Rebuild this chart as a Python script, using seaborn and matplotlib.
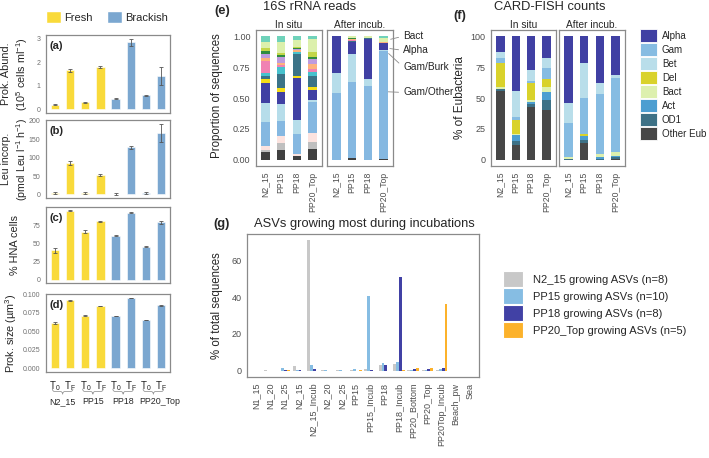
import numpy as np
import pandas as pd
import matplotlib
matplotlib.use('Agg')
import matplotlib.pyplot as plt
import matplotlib.transforms as mtransforms
from matplotlib.patches import Patch, PathPatch
from matplotlib.path import Path
import seaborn as sns

# ---------------- panels a-d : incubation measurements ----------------
sites = ['N2_15', 'PP15', 'PP18', 'PP20_Top']
times = ['T0', 'TF']
time_labels = ['T$_0$', 'T$_F$']
water = ['Fresh', 'Fresh', 'Fresh', 'Fresh', 'Brackish', 'Brackish', 'Brackish', 'Brackish']

abund = [0.20, 1.65, 0.30, 1.80, 0.46, 2.85, 0.61, 1.43]
abund_err = [0.02, 0.07, 0.01, 0.04, 0.03, 0.15, 0.02, 0.38]
leu = [5, 85, 4, 53, 2, 128, 3, 168]
leu_err = [3, 6, 4, 4, 3, 4, 3, 25]
hna = [40, 94.5, 66, 80, 60.5, 92, 45, 78.5]
hna_err = [4, 0.5, 2, 0.5, 1, 0.8, 0.8, 2]
cell_size = [0.061, 0.092, 0.071, 0.084, 0.071, 0.095, 0.065, 0.085]
cell_size_err = [0.001, 0.0005, 0.0005, 0.0005, 0.0003, 0.0005, 0.0003, 0.001]

# ---------------- panel e : 16S rRNA reads (bottom -> top) ----------------
e_taxa = ['Other', 'Minor_grey', 'Minor_pink', 'Gam/Other', 'Gam/Burk', 'Alpha',
          'Minor_yellow', 'Minor_teal', 'Minor_cyan', 'Minor_rose', 'Minor_peach',
          'Minor_lilac', 'Minor_green', 'Minor_lime', 'Bact', 'Minor_mint']
e_colors = ['#404040', '#BFBFBF', '#FCE3DF', '#85B8E1', '#B6DDEA', '#4040A3',
            '#F5DE16', '#3B7388', '#47C2CE', '#F082B2', '#FDB27C',
            '#BE9BDD', '#2F8C3F', '#C3D649', '#DCF0AC', '#6FD2BA']
e_insitu_N2_15 = [0.063, 0.014, 0.036, 0.189, 0.158, 0.164, 0.027, 0.027, 0.027, 0.096, 0.022, 0.033, 0.027, 0.019, 0.049, 0.049]
e_insitu_PP15 = [0.077, 0.055, 0.058, 0.12, 0.145, 0.095, 0.027, 0.12, 0.05, 0.02, 0.02, 0.045, 0.015, 0.02, 0.085, 0.048]
e_insitu_PP18 = [0.03, 0.0, 0.019, 0.156, 0.117, 0.342, 0.014, 0.177, 0.02, 0.0, 0.016, 0.005, 0.005, 0.01, 0.06, 0.029]
e_insitu_PP20 = [0.09, 0.055, 0.068, 0.251, 0.016, 0.087, 0.022, 0.087, 0.033, 0.022, 0.041, 0.04, 0.019, 0.044, 0.1, 0.025]
e_incub_N2_15 = [0, 0, 0, 0.54, 0.16, 0.30, 0, 0, 0, 0, 0, 0, 0, 0, 0, 0]
e_incub_PP15 = [0.015, 0, 0, 0.615, 0.225, 0.10, 0, 0.01, 0, 0.005, 0.005, 0.005, 0.005, 0, 0.015, 0]
e_incub_PP18 = [0, 0, 0, 0.60, 0.05, 0.33, 0, 0.005, 0, 0, 0, 0, 0, 0, 0.015, 0]
e_incub_PP20 = [0.008, 0, 0, 0.874, 0.006, 0.055, 0, 0.004, 0, 0, 0.004, 0.004, 0, 0, 0.03, 0.015]

# ---------------- panel f : CARD-FISH counts (% of Eubacteria) ----------------
f_groups = ['Alpha', 'Gam', 'Bet', 'Del', 'Bact', 'Act', 'OD1', 'Other Eub']
f_colors = ['#4040A3', '#86BCE2', '#B9DEEA', '#D9D22B', '#DDF0AE', '#4C9ED1', '#3D7186', '#474747']
f_stack_order = ['Other Eub', 'OD1', 'Act', 'Bact', 'Del', 'Gam', 'Bet', 'Alpha']
f_insitu = {
    'Alpha': [13, 44, 27.5, 17.5], 'Gam': [4.5, 3, 2, 9], 'Bet': [4.5, 21, 8.5, 8.5],
    'Del': [19, 11, 13.5, 6.5], 'Bact': [1.5, 1, 1.5, 3.5], 'Act': [0, 5, 2, 7],
    'OD1': [1.5, 3, 2, 8], 'Other Eub': [56, 12, 43, 40]}
f_incub = {
    'Alpha': [54, 22, 37.5, 31], 'Gam': [28, 29, 48, 60], 'Bet': [16, 28, 9.5, 3],
    'Del': [0, 1.5, 0, 0], 'Bact': [1, 0.5, 3, 3], 'Act': [0.5, 3, 1.5, 1],
    'OD1': [0.5, 2, 0.5, 1.5], 'Other Eub': [0, 14, 0, 0.5]}

# ---------------- panel g : growing ASVs ----------------
g_samples = ['N1_15', 'N1_20', 'N1_25', 'N2_15', 'N2_15_Incub', 'N2_20', 'N2_25', 'PP15',
             'PP15_Incub', 'PP18', 'PP18_Incub', 'PP20_Bottom', 'PP20_Top', 'PP20Top_Incub',
             'Beach_pw', 'Sea']
g_groups = ['N2_15 growing ASVs (n=8)', 'PP15 growing ASVs (n=10)',
            'PP18 growing ASVs (n=8)', 'PP20_Top growing ASVs (n=5)']
g_colors = ['#C8C8C8', '#86BDE3', '#4141A5', '#FCB22B']
g_n2_15 = [0, 0.1, 0, 2.5, 71, 0.3, 0.2, 0.1, 0.8, 3.0, 3.5, 0.2, 0.1, 0.2, 0, 0]
g_pp15 = [0, 0, 1.2, 0.5, 3.0, 0.2, 0.1, 0.8, 40.5, 4.0, 4.5, 0.5, 0.3, 1.0, 0, 0]
g_pp18 = [0, 0, 0.1, 0.3, 0.8, 0, 0, 0, 0.5, 3.0, 51, 0.6, 0.8, 1.3, 0, 0]
g_pp20 = [0, 0, 0.2, 0, 0, 0, 0, 0.3, 0, 0, 0.3, 1.5, 1.3, 36.5, 0, 0]

water_pal = {'Fresh': '#F9DA3A', 'Brackish': '#7BA7D0'}
border = '#8A8A8A'

sns.set_theme(style='white')
plt.rcParams['font.family'] = ['Liberation Sans', 'DejaVu Sans']
plt.rcParams['mathtext.default'] = 'regular'

W, H = 709, 458
fig = plt.figure(figsize=(W / 100, H / 100), dpi=100)


def px_axes(l, t, r, b):
    return fig.add_axes([l / W, 1 - b / H, (r - l) / W, (b - t) / H])


def ftext(x, y, s, **kw):
    fig.text(x / W, 1 - y / H, s, **kw)


def frame(ax, labelsize, labelcolor='#4D4D4D'):
    for sp in ax.spines.values():
        sp.set_color(border)
        sp.set_linewidth(0.9)
    ax.tick_params(axis='both', colors=border, labelcolor=labelcolor,
                   labelsize=labelsize, length=2.5, width=0.6, pad=1.5)
    ax.set_xlabel('')
    ax.set_ylabel('')


def expand(ax, top):
    ax.set_ylim(-0.05 * top, 1.05 * top)


def brace(ax, x0, x1, y, h):
    tr = mtransforms.blended_transform_factory(ax.transData, ax.transAxes)
    xm, d = (x0 + x1) / 2, 0.15
    verts = [(x0, y), (x0, y - h / 2), (x0 + d, y - h / 2),
             (xm - d, y - h / 2), (xm, y - h / 2), (xm, y - h),
             (xm, y - h / 2), (xm + d, y - h / 2),
             (x1 - d, y - h / 2), (x1, y - h / 2), (x1, y)]
    codes = [Path.MOVETO, Path.CURVE3, Path.CURVE3, Path.LINETO, Path.CURVE3, Path.CURVE3,
             Path.CURVE3, Path.CURVE3, Path.LINETO, Path.CURVE3, Path.CURVE3]
    ax.add_patch(PathPatch(Path(verts, codes), transform=tr, fill=False,
                           ec='#9A9A9A', lw=0.6, clip_on=False))


# ---------------- a-d ----------------
bar_ids = [f'{s} {t}' for s in sites for t in times]
site_label_shift = [0, 0, 0, 0.45]
panels = [
    (abund, abund_err, [0, 1, 2, 3], '{:g}', (46, 35, 170, 113), '(a)'),
    (leu, leu_err, [0, 50, 100, 150, 200], '{:g}', (46, 120, 170, 198), '(b)'),
    (hna, hna_err, [0, 25, 50, 75], '{:g}', (46, 207, 170, 283), '(c)'),
    (cell_size, cell_size_err, [0, 0.025, 0.05, 0.075, 0.1], '{:.3f}', (46, 294, 170, 372), '(d)'),
]
for vals, errs, ticks, fmt, box, letter in panels:
    ax = px_axes(*box)
    sns.barplot(x=bar_ids, y=vals, hue=water, palette=water_pal, dodge=False, width=0.55,
                saturation=1, errorbar=None, legend=False, linewidth=0.4, ax=ax)
    ax.errorbar(np.arange(len(vals)), vals, yerr=errs, fmt='none', ecolor='#555555',
                elinewidth=0.6, capsize=1.5, capthick=0.6)
    ax.set_xlim(-0.6, len(vals) - 0.4)
    expand(ax, max(v + e for v, e in zip(vals, errs)))
    ax.set_yticks(ticks)
    ax.set_yticklabels([fmt.format(t) for t in ticks])
    frame(ax, 5, '#707070')
    ax.text(0.03, 0.86, letter, transform=ax.transAxes, fontsize=8, fontweight='bold', va='center')
    if letter != '(d)':
        ax.tick_params(labelbottom=False)
    else:
        ax.set_xticks(np.arange(len(vals)))
        ax.set_xticklabels(time_labels * len(sites), fontsize=7, color='#222222')
        ax.tick_params(axis='x', pad=3)
        for k, s in enumerate(sites):
            brace(ax, 2 * k - 0.18, 2 * k + 1.18, -0.215, 0.07)
            ax.text(2 * k + 0.5 + site_label_shift[k], -0.38, s,
                    transform=mtransforms.blended_transform_factory(ax.transData, ax.transAxes),
                    ha='center', va='center', fontsize=6.4)

ftext(15.5, 74, 'Prok. Abund.\n(10$^5$ cells ml$^{-1}$)', rotation=90, ha='center', va='center',
      fontsize=7.8, linespacing=1.3)
ftext(15.5, 159, 'Leu incorp.\n(pmol Leu l$^{-1}$ h$^{-1}$)', rotation=90, ha='center', va='center',
      fontsize=7.6, linespacing=1.3)
ftext(15, 245, '% HNA cells', rotation=90, ha='center', va='center', fontsize=7.8)
ftext(11, 333, 'Prok. size (µm$^3$)', rotation=90, ha='center', va='center', fontsize=7.8)

fig.legend(handles=[Patch(fc=water_pal['Fresh']), Patch(fc=water_pal['Brackish'])],
           labels=['Fresh', 'Brackish'], ncol=2, loc='upper left',
           bbox_to_anchor=(46 / W, 1 - 11 / H), frameon=False, fontsize=8,
           handlelength=1.35, handleheight=1.35, handletextpad=0.3, columnspacing=1.3,
           borderpad=0, borderaxespad=0)

# ---------------- e ----------------
e_insitu = [e_insitu_N2_15, e_insitu_PP15, e_insitu_PP18, e_insitu_PP20]
e_incub = [e_incub_N2_15, e_incub_PP15, e_incub_PP18, e_incub_PP20]
e1 = px_axes(256, 30, 322, 166)
e2 = px_axes(327, 30, 393, 166)
for ax, table, facet in [(e1, e_insitu, 'In situ'), (e2, e_incub, 'After incub.')]:
    bottom = np.zeros(len(sites))
    for j, col in enumerate(e_colors):
        part = np.array([row[j] for row in table])
        ax.bar(sites, part, bottom=bottom, width=0.55, color=col, linewidth=0)
        bottom += part
    ax.set_xlim(-0.6, 3.6)
    expand(ax, 1)
    ax.set_yticks([0, 0.25, 0.5, 0.75, 1.0])
    ax.set_yticklabels(['0.00', '0.25', '0.50', '0.75', '1.00'])
    frame(ax, 6.5)
    ax.tick_params(axis='x', labelrotation=90, labelsize=6.2)
    ax.set_title(facet, fontsize=7.3, pad=1.5)
e2.tick_params(axis='y', left=False, labelleft=False)

ann = dict(arrowstyle='-', color='#8A8A8A', lw=0.6, shrinkA=1, shrinkB=0, relpos=(0, 0.5))
for label, xy, xyt in [('Bact', (3.45, 0.975), (4.25, 1.0)),
                       ('Alpha', (3.4, 0.9), (4.25, 0.885)),
                       ('Gam/Burk', (3.32, 0.86), (4.25, 0.75)),
                       ('Gam/Other', (3.3, 0.55), (4.25, 0.545))]:
    e2.annotate(label, xy=xy, xytext=xyt, ha='left', va='center', fontsize=7.3,
                arrowprops=ann, annotation_clip=False)

ftext(310, 7, '16S rRNA reads', ha='center', va='center', fontsize=9.3)
ftext(222, 11, '(e)', ha='center', va='center', fontsize=9.3, fontweight='bold')
ftext(217, 96, 'Proportion of sequences', rotation=90, ha='center', va='center', fontsize=8.3)

# ---------------- f ----------------
f1 = px_axes(491, 30, 556, 166)
f2 = px_axes(559, 30, 625, 166)
f_color_of = dict(zip(f_groups, f_colors))
for ax, table, facet in [(f1, f_insitu, 'In situ'), (f2, f_incub, 'After incub.')]:
    bottom = np.zeros(len(sites))
    for grp in f_stack_order:
        part = np.array(table[grp], dtype=float)
        ax.bar(sites, part, bottom=bottom, width=0.55, color=f_color_of[grp], linewidth=0)
        bottom += part
    ax.set_xlim(-0.6, 3.6)
    expand(ax, 100)
    ax.set_yticks([0, 25, 50, 75, 100])
    frame(ax, 6.5)
    ax.tick_params(axis='x', labelrotation=90, labelsize=6.2)
    ax.set_title(facet, fontsize=7.3, pad=1.5)
f2.tick_params(axis='y', left=False, labelleft=False)

fig.legend(handles=[Patch(fc=c, ec='white', lw=0.6) for c in f_colors], labels=f_groups,
           loc='upper left', bbox_to_anchor=(640 / W, 1 - 29.5 / H), frameon=False, fontsize=7,
           handlelength=1.75, handleheight=1.6, labelspacing=0.15, handletextpad=0.5,
           borderpad=0, borderaxespad=0)

ftext(550, 7, 'CARD-FISH counts', ha='center', va='center', fontsize=9.3)
ftext(460, 16, '(f)', ha='center', va='center', fontsize=9.3, fontweight='bold')
ftext(460, 98, '% of Eubacteria', rotation=90, ha='center', va='center', fontsize=8.5)

# ---------------- g ----------------
g_df = pd.DataFrame({
    'sample': g_samples * 4,
    'pct': g_n2_15 + g_pp15 + g_pp18 + g_pp20,
    'group': [g for g in g_groups for _ in g_samples],
})
axg = px_axes(247, 234, 479, 377)
sns.barplot(data=g_df, x='sample', y='pct', hue='group', hue_order=g_groups,
            palette=g_colors, width=0.8, saturation=1, errorbar=None, legend=False,
            linewidth=0, ax=axg)
axg.set_xlim(-0.6, len(g_samples) - 0.4)
expand(axg, max(g_df['pct']))
axg.set_yticks([0, 20, 40, 60])
frame(axg, 6.5)
axg.tick_params(axis='x', labelrotation=90, labelsize=6.5)

fig.legend(handles=[Patch(fc=c, ec='white', lw=0.8) for c in g_colors], labels=g_groups,
           loc='upper left', bbox_to_anchor=(503 / W, 1 - 271 / H), frameon=False, fontsize=8,
           handlelength=1.8, handleheight=1.85, labelspacing=0.09, handletextpad=0.9,
           borderpad=0, borderaxespad=0)

ftext(364, 224, 'ASVs growing most during incubations', ha='center', va='center', fontsize=9.3)
ftext(222, 224, '(g)', ha='center', va='center', fontsize=9.3, fontweight='bold')
ftext(217, 306, '% of total sequences', rotation=90, ha='center', va='center', fontsize=8.3)

fig.savefig('out.png', dpi=100)
